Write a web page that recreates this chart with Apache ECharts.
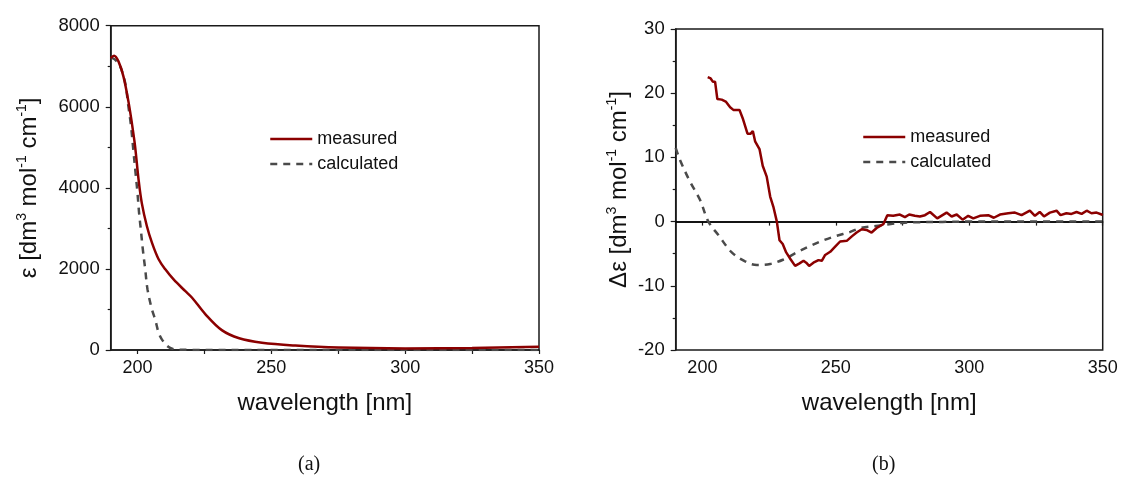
<!DOCTYPE html>
<html><head><meta charset="utf-8">
<script src="https://cdn.jsdelivr.net/npm/echarts@6/dist/echarts.min.js"></script>
<style>html,body{margin:0;padding:0;background:#fff}#c{width:1121px;height:479px}</style>
</head><body><div id="c"></div>
<script>
// Panel (a): absorption
const lamA_meas = [190,191.25,192.9,194.75,196.6,197.9,199.1,200.4,201.6,203.5,205.4,207.9,210.4,213.5,217.9,220.4,225.4,231.5,238,246.5,259,275,300,325,350];
const epsMeasured = [7200,7260,7120,6750,6140,5600,5030,4210,3630,3060,2650,2240,1990,1740,1450,1290,880,490,290,180,110,60,40,50,80];
const lamA_calc = [190,191.5,193.5,195.4,196.6,197.6,198.5,199.4,200,200.6,201.25,202,202.9,203.75,205.4,206.6,207.9,209.1,211.5,214,220,250,300,350];
const epsCalculated = [7200,7170,7000,6590,6015,5520,4900,4290,3880,3385,2975,2480,1990,1495,1000,756,427,263,80,16,3,0,0,0];
// Panel (b): CD
const lamB_meas = [202,203.1,203.9,204.75,205.6,207.25,208.75,210.4,211.6,213.9,215.1,216.9,218.1,218.9,219.75,221.4,222.6,224.1,225.4,226.6,227.9,228.9,230.1,231.4,233.1,234.75,236.4,237.9,238.9,240,241.6,243.5,244.75,246,247.9,249.75,251.6,254.1,256,257.8,259.7,261.5,263.4,265.3,267.8,269.3,271.5,274,275.9,277.5,279.6,281.5,283.4,285.3,288,291.5,293.4,295.3,297.5,299.6,301.5,304,307.1,309.2,311.5,314.6,317.1,319.6,322.7,324.6,326.4,328,330.2,332.7,334.2,336.4,338.3,340.2,342.1,344,345.8,347.7,349.6,350];
const dEpsMeasured = [22.5,22.3,21.8,21.8,19.1,19.0,18.7,17.8,17.4,17.4,16.1,13.7,13.7,14.1,12.5,11.3,8.7,7.0,3.9,2.3,0,-2.9,-3.5,-4.8,-5.9,-6.9,-6.5,-6.1,-6.4,-6.9,-6.4,-6.0,-6.1,-5.2,-4.7,-3.9,-3.1,-3.0,-2.3,-1.7,-1.2,-1.3,-1.7,-1.0,-0.4,1.0,0.9,1.1,0.7,1.1,0.9,0.8,1.0,1.5,0.5,1.4,0.8,1.1,0.3,0.9,0.5,0.9,1.0,0.6,1.1,1.3,1.4,1.0,1.7,0.9,1.5,0.8,1.4,1.7,1.0,1.3,1.2,1.5,1.2,1.7,1.3,1.4,1.1,1.0];
const lamB_calc = [190,191.6,195.4,199.1,202.25,206,211,216,220.4,225.4,230.4,235.4,240.4,245.4,250.4,255.4,259.1,265,270,275,280,290,300,325,350];
const dEpsCalculated = [11.5,9.6,6.2,3.4,0,-2.1,-4.8,-6.2,-6.75,-6.6,-5.9,-4.8,-3.8,-2.9,-2.2,-1.6,-1.0,-0.7,-0.4,-0.2,-0.1,-0.05,0,0,0];
// Ticks
const xLabels = [200,250,300,350];
const xTicks = [200,225,250,275,300,325,350];

const zip = (a,b)=>a.map((v,i)=>[v,b[i]]);
const RED = '#8b0000', GREY = '#4a4a4a', AX = '#1a1a1a';
const FONT = 'Liberation Sans, Arial, sans-serif';

function xAx(gi){
  return {type:'value', gridIndex:gi, min:190, max:350,
    name:'wavelength [nm]', nameLocation:'middle', nameGap:41,
    nameTextStyle:{fontFamily:FONT, fontSize:24, color:'#111'},
    axisLine:{show:true, lineStyle:{color:AX, width:1.5}},
    axisTick:{show:true, inside:false, length:4, customValues:xTicks, lineStyle:{color:AX, width:1.2}},
    axisLabel:{customValues:xLabels, margin:9, fontFamily:FONT, fontSize:18, color:'#111'},
    splitLine:{show:false}};
}
function yAx(gi,min,max,interval,nameRich,gap){
  return {type:'value', gridIndex:gi, min, max, interval,
    name:nameRich, nameLocation:'middle', nameGap:gap, nameRotate:90,
    nameTextStyle:{fontFamily:FONT, fontSize:24, color:'#111',
      rich:{sup:{fontFamily:FONT, fontSize:14, color:'#111', verticalAlign:'top', lineHeight:29},
            n:{fontFamily:FONT, fontSize:24, color:'#111', lineHeight:29}}},
    axisLine:{show:true, lineStyle:{color:AX, width:1.5}},
    axisTick:{show:true, inside:false, length:5, lineStyle:{color:AX, width:1.2}},
    minorTick:{show:true, splitNumber:2, length:3, lineStyle:{color:AX, width:1.2}},
    axisLabel:{margin:11, fontFamily:FONT, fontSize:18.5, color:'#111', formatter:(v)=>String(v)},
    splitLine:{show:false}};
}
const legendBase = {orient:'vertical', itemWidth:42, itemHeight:14, itemGap:7,
  itemStyle:{opacity:0}, lineStyle:{width:2.5}, data:['measured','calculated'],
  textStyle:{fontFamily:FONT, fontSize:18, color:'#111', lineHeight:18}};

const chart = echarts.init(document.getElementById('c'), null, {renderer:'canvas'});
chart.setOption({
  animation:false,
  backgroundColor:'#fff',
  grid:[
    {left:110.7, top:25.7, width:428.3, height:324.3, show:true, borderColor:AX, borderWidth:1.5, backgroundColor:'transparent'},
    {left:675.7, top:29, width:427, height:321, show:true, borderColor:AX, borderWidth:1.5, backgroundColor:'transparent'}
  ],
  xAxis:[xAx(0), xAx(1)],
  yAxis:[
    yAx(0,0,8000,2000,'{n|ε [dm}{sup|3}{n| mol}{sup|-1}{n| cm}{sup|-1}{n|]}',67),
    yAx(1,-20,30,10,'{n|Δε [dm}{sup|3}{n| mol}{sup|-1}{n| cm}{sup|-1}{n|]}',42)
  ],
  legend:[
    Object.assign({}, legendBase, {left:264, top:125}),
    Object.assign({}, legendBase, {left:857, top:123})
  ],
  series:[
    {name:'measured', type:'line', xAxisIndex:0, yAxisIndex:0, data:zip(lamA_meas,epsMeasured),
     smooth:0.35, symbol:'none', lineStyle:{color:RED, width:2.5}, itemStyle:{color:RED}, z:3},
    {name:'calculated', type:'line', xAxisIndex:0, yAxisIndex:0, data:zip(lamA_calc,epsCalculated),
     smooth:0.35, symbol:'none', lineStyle:{color:GREY, width:2.5, type:[7,6]}, itemStyle:{color:GREY}, z:2},
    {name:'measured', type:'line', xAxisIndex:1, yAxisIndex:1, data:zip(lamB_meas,dEpsMeasured),
     smooth:false, symbol:'none', lineStyle:{color:RED, width:2.5}, itemStyle:{color:RED}, z:3,
     markLine:{silent:true, symbol:'none', label:{show:false}, lineStyle:{color:'#000', width:1.6, type:'solid'}, data:[{yAxis:0}], z:1}},
    {name:'calculated', type:'line', xAxisIndex:1, yAxisIndex:1, data:zip(lamB_calc,dEpsCalculated),
     smooth:0.35, symbol:'none', lineStyle:{color:GREY, width:2.5, type:[7,6]}, itemStyle:{color:GREY}, z:2}
  ],
  graphic:[
    {type:'text', left:298, top:455, style:{text:'(a)', fontFamily:'Liberation Serif, Times New Roman, serif', fontSize:20, fill:'#111'}},
    {type:'text', left:872, top:455, style:{text:'(b)', fontFamily:'Liberation Serif, Times New Roman, serif', fontSize:20, fill:'#111'}}
  ]
});
</script></body></html>
